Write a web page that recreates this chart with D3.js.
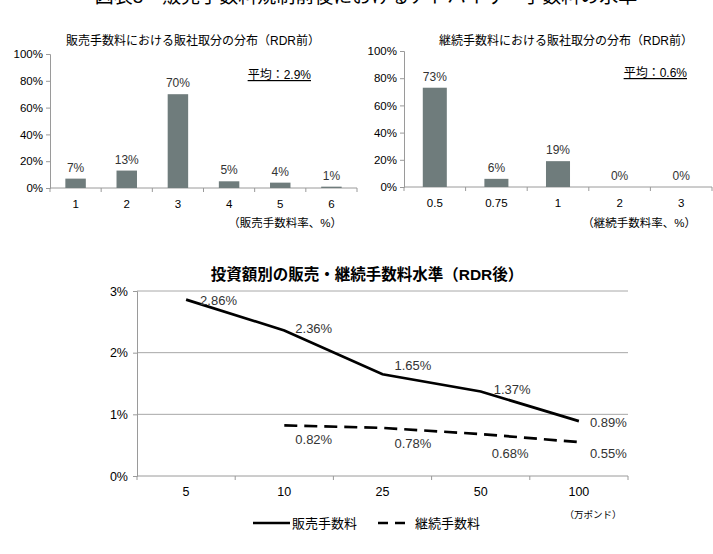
<!DOCTYPE html>
<html><head><meta charset="utf-8">
<script src="https://cdn.jsdelivr.net/npm/d3@7"></script>
<style>
html,body{margin:0;padding:0;background:#fff;}
svg{display:block;}
text{font-family:"Liberation Sans",Arial,"Noto Sans CJK JP",sans-serif;fill:#000;}
</style></head>
<body><svg id="c" width="713" height="554"></svg>
<script>
const mainTitle = "図表5　販売手数料規制前後におけるアドバイザー手数料の水準";

const salesRateCats = ["1","2","3","4","5","6"];
const salesShare = [7,13,70,5,4,1];
const trailRateCats = ["0.5","0.75","1","2","3"];
const trailShare = [73,6,19,0,0];
const shareTicks = [0,20,40,60,80,100];

const amountCats = ["5","10","25","50","100"];
const salesFee = [2.86,2.36,1.65,1.37,0.89];
const trailFee = [null,0.82,0.78,0.68,0.55];
const feeTicks = [0,1,2,3];

const svg = d3.select("#c");
const barColor = "#6f7c7c";
const axisColor = "#9a9a9a";

svg.append("text").attr("x",366).attr("y",3).attr("text-anchor","middle")
  .style("font-size","19px").text(mainTitle);

function barChart(o){
  const g = svg.append("g");
  const x = d3.scaleBand().domain(o.cats).range([o.x0,o.x1]).padding(0);
  const y = d3.scaleLinear().domain([0,100]).range([o.y0,o.yTop]);
  const ya = d3.axisLeft(y).tickValues(shareTicks).tickFormat(d=>d+"%").tickSize(4).tickPadding(3);
  const yg = g.append("g").attr("transform",`translate(${o.x0},0)`).call(ya);
  yg.select(".domain").attr("stroke",axisColor);
  yg.selectAll(".tick line").attr("stroke",axisColor);
  yg.selectAll("text").style("font-size","11.5px").style("fill","#000");
  g.append("line").attr("x1",o.x0).attr("x2",o.x1).attr("y1",o.y0).attr("y2",o.y0).attr("stroke",axisColor);
  const bounds = o.cats.map(c=>x(c)).concat([o.x1]);
  g.selectAll(".bt").data(bounds).join("line").attr("x1",d=>d).attr("x2",d=>d)
    .attr("y1",o.y0).attr("y2",o.y0+4).attr("stroke",axisColor);
  g.selectAll(".xl").data(o.cats).join("text").attr("x",d=>x(d)+x.bandwidth()/2).attr("y",o.y0+20)
    .attr("text-anchor","middle").style("font-size","11.5px").text(d=>d);
  const bw = x.bandwidth()*o.bf;
  g.selectAll(".bar").data(o.vals).join("rect")
    .attr("x",(d,i)=>x(o.cats[i])+x.bandwidth()/2-bw/2).attr("width",bw)
    .attr("y",d=>y(d)).attr("height",d=>o.y0-y(d)).attr("fill",barColor);
  g.selectAll(".vl").data(o.vals).join("text")
    .attr("x",(d,i)=>x(o.cats[i])+x.bandwidth()/2).attr("y",d=>y(d)-7)
    .attr("text-anchor","middle").style("font-size","12px").style("fill","#333").text(d=>d+"%");
  g.append("text").attr("x",o.tx).attr("y",45).attr("text-anchor","middle").style("font-size","12px").text(o.title);
  g.append("text").attr("x",o.ax).attr("y",o.ay).attr("text-anchor","end")
    .style("font-size","12px").style("text-decoration","underline").text(o.avg);
  g.append("text").attr("x",o.ux).attr("y",227).attr("text-anchor","end").style("font-size","11.5px").text(o.unit);
}

barChart({cats:salesRateCats, vals:salesShare, x0:50, x1:357, y0:188, yTop:54, bf:0.4,
  title:"販売手数料における販社取分の分布（RDR前）", tx:193, avg:"平均：2.9%", ax:311, ay:79,
  unit:"（販売手数料率、%）", ux:342});
barChart({cats:trailRateCats, vals:trailShare, x0:404, x1:712, y0:187, yTop:51, bf:0.39,
  title:"継続手数料における販社取分の分布（RDR前）", tx:566, avg:"平均：0.6%", ax:687, ay:77,
  unit:"（継続手数料率、%）", ux:696});

// bottom line chart
const bx0=137, bx1=628, by0=476, byTop=291;
const xb = d3.scaleBand().domain(amountCats).range([bx0,bx1]).padding(0);
const yb = d3.scaleLinear().domain([0,3]).range([by0,byTop]);
const lg = svg.append("g");
lg.append("text").attr("x",367).attr("y",280).attr("text-anchor","middle")
  .style("font-size","15.5px").style("font-weight","bold").text("投資額別の販売・継続手数料水準（RDR後）");
lg.selectAll(".grid").data(feeTicks.filter(d=>d>0)).join("line")
  .attr("x1",bx0).attr("x2",bx1).attr("y1",d=>yb(d)).attr("y2",d=>yb(d)).attr("stroke","#a8a8a8");
const yab = d3.axisLeft(yb).tickValues(feeTicks).tickFormat(d=>d+"%").tickSize(4).tickPadding(5);
const ybg = lg.append("g").attr("transform",`translate(${bx0},0)`).call(yab);
ybg.select(".domain").attr("stroke",axisColor);
ybg.selectAll(".tick line").attr("stroke",axisColor);
ybg.selectAll("text").style("font-size","12.5px").style("fill","#000");
lg.append("line").attr("x1",bx0).attr("x2",bx1).attr("y1",by0).attr("y2",by0).attr("stroke",axisColor);
const bb = amountCats.map(c=>xb(c)).concat([bx1]);
lg.selectAll(".bt").data(bb).join("line").attr("x1",d=>d).attr("x2",d=>d).attr("y1",by0).attr("y2",by0+4).attr("stroke",axisColor);
lg.selectAll(".xl").data(amountCats).join("text").attr("x",d=>xb(d)+xb.bandwidth()/2).attr("y",by0+20)
  .attr("text-anchor","middle").style("font-size","12.5px").text(d=>d);
const cx = c=>xb(c)+xb.bandwidth()/2;
const line = d3.line().defined(d=>d.v!=null).x(d=>cx(d.c)).y(d=>yb(d.v));
const sData = amountCats.map((c,i)=>({c,v:salesFee[i]}));
const tData = amountCats.map((c,i)=>({c,v:trailFee[i]}));
lg.append("path").datum(sData).attr("d",line).attr("fill","none").attr("stroke","#000").attr("stroke-width",2.7);
lg.append("path").datum(tData).attr("d",line).attr("fill","none").attr("stroke","#000").attr("stroke-width",2.7).attr("stroke-dasharray","13,7");
// label placement (pixel offsets from the point)
const sDy = [5,3,-4,2,6], sDx = [14,11,12,13,11];
const tDy = [0,19,20,24,16], tDx = [0,11,12,11,11];
lg.selectAll(".sl").data(sData).join("text").attr("x",(d,i)=>cx(d.c)+sDx[i]).attr("y",(d,i)=>yb(d.v)+sDy[i])
  .style("font-size","13px").style("fill","#333").text(d=>d.v.toFixed(2)+"%");
lg.selectAll(".tl").data(tData).join("text").filter(d=>d.v!=null)
  .attr("x",(d,i)=>cx(d.c)+tDx[amountCats.indexOf(d.c)]).attr("y",d=>yb(d.v)+tDy[amountCats.indexOf(d.c)])
  .style("font-size","13px").style("fill","#333").text(d=>d.v.toFixed(2)+"%");
lg.append("text").attr("x",593).attr("y",518).attr("text-anchor","middle").style("font-size","9.5px").text("（万ポンド）");
// legend
lg.append("line").attr("x1",253).attr("x2",290).attr("y1",523).attr("y2",523).attr("stroke","#000").attr("stroke-width",2.7);
lg.append("text").attr("x",292).attr("y",528).style("font-size","13px").text("販売手数料");
lg.append("line").attr("x1",378).attr("x2",408).attr("y1",523).attr("y2",523).attr("stroke","#000").attr("stroke-width",2.7).attr("stroke-dasharray","10,7");
lg.append("text").attr("x",415).attr("y",528).style("font-size","13px").text("継続手数料");
</script></body></html>
